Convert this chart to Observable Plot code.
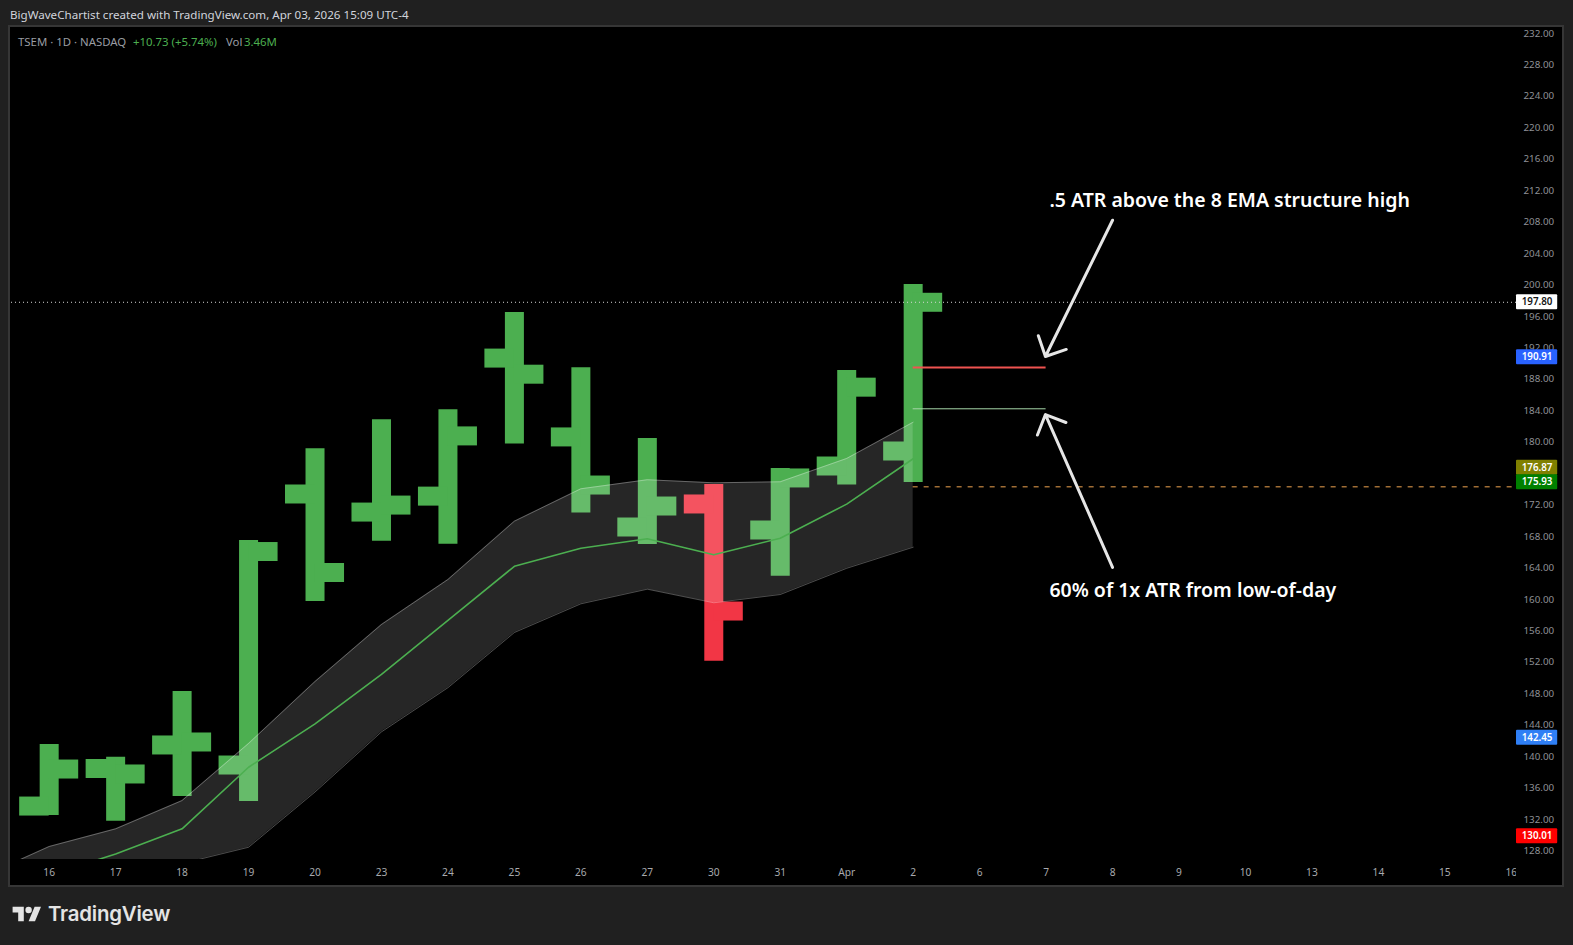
<!DOCTYPE html>
<html>
<head>
<meta charset="utf-8">
<script src="https://cdn.jsdelivr.net/npm/d3@7"></script>
<script src="https://cdn.jsdelivr.net/npm/@observablehq/plot@0.6"></script>
<style>
html,body{margin:0;padding:0;background:#202020;width:1573px;height:945px;overflow:hidden;font-family:"Noto Sans",sans-serif}
#hdr{position:absolute;left:10px;top:7px;color:#d1d4dc;font-size:11.6px;line-height:16px;white-space:nowrap}
#wrap{position:absolute;left:10px;top:27px;width:1552px;height:858px;outline:2px solid #363636;outline-offset:0}
#leg{position:absolute;left:18px;top:34px;font-size:11.4px;line-height:16px;color:#9a9da3;white-space:nowrap}
#leg span{position:absolute;top:0}
#logo{position:absolute;left:12px;top:906px;color:#e4e4e4;display:flex;align-items:center}
#logo b{font-family:Inter,"Noto Sans",sans-serif;font-weight:600;font-size:20.4px;margin-left:6px;letter-spacing:-.2px;line-height:16px}
</style>
</head>
<body>
<div id="hdr">BigWaveChartist created with TradingView.com, Apr 03, 2026 15:09 UTC-4</div>
<div id="wrap"></div>
<div id="leg"><span style="left:0">TSEM · 1D · NASDAQ</span><span style="left:115px;color:#4caf50">+10.73 (+5.74%)</span><span style="left:208px">Vol</span><span style="left:226px;color:#4caf50">3.46M</span></div>
<div id="logo"><svg width="30" height="16" viewBox="0 3 36 20"><path fill="#e4e4e4" d="M14 22H7V11H0V4h14v18zM28 22h-8l7.5-18h8L28 22z"/><circle fill="#e4e4e4" cx="20" cy="8" r="4"/></svg><b>TradingView</b></div>
<script>
const dayLabels = ["16","17","18","19","20","23","24","25","26","27","30","31","Apr","2","6","7","8","9","10","13","14","15","16"];
const priceTicks = [128,132,136,140,144,148,152,156,160,164,168,172,176,180,184,188,192,196,200,204,208,212,216,220,224,228,232];

const barIndex = [0,1,2,3,4,5,6,7,8,9,10,11,12,13];
const opens  = [133.71,138.49,141.48,138.93,173.41,171.11,173.14,190.70,180.67,169.21,172.14,168.83,176.97,178.88];
const highs  = [141.54,139.92,148.28,167.49,179.15,182.85,184.12,196.50,189.48,180.47,174.62,176.65,189.12,200.06];
const lows   = [132.51,131.78,134.92,134.29,159.73,167.40,167.02,179.78,170.98,166.98,152.14,162.95,174.55,174.87];
const closes = [138.42,137.79,141.86,166.09,163.42,172.00,180.80,188.65,174.55,171.88,158.52,175.45,187.00,197.80];
const barColors = ["#4caf50","#4caf50","#4caf50","#4caf50","#4caf50","#4caf50","#4caf50","#4caf50","#4caf50","#4caf50","#f23645","#4caf50","#4caf50","#4caf50"];

const lineIndex = [-1,0,1,2,3,4,5,6,7,8,9,10,11,12,13];
const ema   = [122.33,124.87,127.62,130.81,138.65,144.17,150.45,157.32,164.21,166.51,167.71,165.67,167.79,172.12,177.89];
const upper = [124.75,128.56,130.81,134.41,141.67,149.55,156.81,162.53,169.95,174.07,175.22,174.83,174.96,177.93,182.54];
const lower = [118.51,121.06,123.35,126.40,128.47,135.50,143.15,148.77,155.79,159.44,161.30,159.57,160.62,163.96,166.64];

const badgeLabels = ["197.80","190.91","176.87","175.93","142.45","130.01"];
const badgeAt     = [197.80,190.81,176.75,174.91,142.39,129.87];
const badgeFill   = ["#ffffff","#2962ff","#808000","#008000","#2f7ff5","#ff0000"];
const badgeInk    = ["#131313","#ffffff","#ffffff","#ffffff","#ffffff","#ffffff"];

const xMin = -0.567, xMax = 22.078, yMin = 126.91, yMax = 232.63;
const candles = barIndex.map((i,k)=>({i,o:opens[k],h:highs[k],l:lows[k],c:closes[k],col:barColors[k]}));
const series = lineIndex.map((i,k)=>({i,ema:ema[k],up:upper[k],lo:lower[k]}));
const arrows = [
  {x1:16.0,y1:208.24,x2:14.99,y2:190.90},
  {x1:16.0,y1:164.08,x2:14.99,y2:183.52}
];
const notes = [
  {x:15.05,y:210.67,t:".5 ATR above the 8 EMA structure high"},
  {x:15.05,y:161.13,t:"60% of 1x ATR from low-of-day"}
];
const badges = badgeLabels.map((t,k)=>({t,y:badgeAt[k],fill:badgeFill[k],ink:badgeInk[k]}));
const font = '"Noto Sans",sans-serif';

const chart = Plot.plot({
  width:1552, height:858,
  marginLeft:1, marginRight:46, marginTop:1, marginBottom:26,
  style:{background:"#000",fontFamily:font,overflow:"visible"},
  x:{type:"linear",domain:[xMin,xMax]},
  y:{type:"linear",domain:[yMin,yMax]},
  marks:[
    Plot.ruleX(candles,{x:"i",y1:"l",y2:"h",stroke:"col",strokeWidth:19,clip:true}),
    Plot.ruleY(candles,{y:"o",x1:d=>d.i-0.444,x2:d=>d.i,stroke:"col",strokeWidth:19,clip:true}),
    Plot.ruleY(candles,{y:"c",x1:d=>d.i,x2:d=>d.i+0.444,stroke:"col",strokeWidth:19,clip:true}),
    Plot.areaY(series,{x:"i",y1:"lo",y2:"up",fill:"#fff",fillOpacity:0.15,clip:true}),
    Plot.line(series,{x:"i",y:"up",stroke:"#fff",strokeOpacity:0.3,strokeWidth:1,clip:true}),
    Plot.line(series,{x:"i",y:"lo",stroke:"#fff",strokeOpacity:0.3,strokeWidth:1,clip:true}),
    Plot.line(series,{x:"i",y:"ema",stroke:"#4caf50",strokeWidth:1.6,clip:true}),
    Plot.ruleY([197.80],{stroke:"#d8d8d8",strokeWidth:1,strokeDasharray:"1 3"}),
    Plot.ruleY([{y:174.32}],{y:"y",x1:()=>13,x2:()=>xMax,stroke:"#f0a550",strokeWidth:1,strokeDasharray:"5 6"}),
    Plot.ruleY([{y:189.50}],{y:"y",x1:()=>13,x2:()=>15,stroke:"#ef5350",strokeWidth:2}),
    Plot.ruleY([{y:184.25}],{y:"y",x1:()=>13,x2:()=>15,stroke:"#a5d6a7",strokeWidth:1}),
    Plot.arrow(arrows,{x1:"x1",y1:"y1",x2:"x2",y2:"y2",bend:0,stroke:"#e6e6e6",strokeWidth:3,headAngle:90,headLength:11}),
    Plot.text(notes,{x:"x",y:"y",text:"t",textAnchor:"start",fill:"#fff",fontSize:19.5,fontWeight:600}),
    Plot.axisY({anchor:"right",ticks:priceTicks,tickSize:0,tickPadding:7,tickFormat:d3.format(".2f"),fill:"#8f9196",fontSize:9.8,label:null}),
    Plot.axisX({ticks:d3.range(23),tickSize:0,tickPadding:9,tickFormat:i=>dayLabels[i],fill:"#a8aaae",fontSize:10.2,label:null}),
    Plot.rect([0],{x1:()=>xMax,x2:()=>xMax+0.69,y1:()=>yMin,y2:()=>yMin-3.3,fill:"#000"}),
    Plot.rect(badges,{x1:()=>xMax,x2:()=>xMax+0.62,y1:d=>d.y-0.95,y2:d=>d.y+0.95,fill:"fill",rx:1}),
    Plot.text(badges,{x:()=>xMax+0.31,y:"y",text:"t",fill:"ink",fontSize:9.8,fontWeight:600})
  ]
});
document.getElementById("wrap").appendChild(chart);
</script>
</body>
</html>
